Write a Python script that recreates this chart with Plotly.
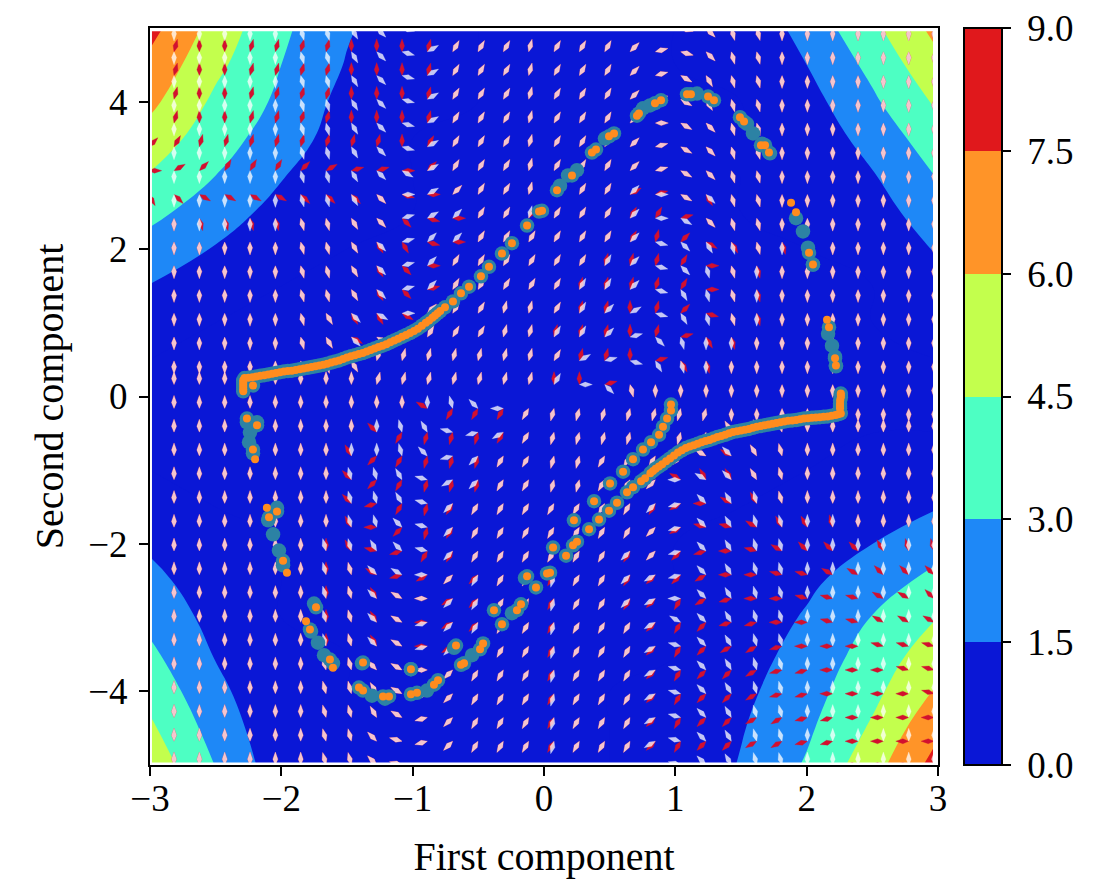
import math
import plotly.graph_objects as go

# ---- density field (rows top to bottom) ----
field_x = [-3, -2.5, -2, -1.5, -1, -0.5, 0, 0.5, 1, 1.5, 2, 2.5, 3]
field_y = [5, 4.5, 4, 3.5, 3, 2.5, 2, 1.5, 1, 0.5, 0, -0.5, -1, -1.5, -2, -2.5, -3, -3.5, -4, -4.5, -5]
field_z = [
    [8.0, 5.4, 3.3, 1.65, .5, 0, 0, 0, 0, .3, 2.05, 4.15, 6.5],
    [7.1, 4.85, 3.0, 1.4, .3, 0, 0, 0, 0, .1, 1.5, 3.4, 5.65],
    [6.35, 4.2, 2.7, 1.0, .1, 0, 0, 0, 0, 0, .95, 2.75, 4.75],
    [5.4, 3.6, 2.3, .7, 0, 0, 0, 0, 0, 0, .6, 2.0, 3.9],
    [4.4, 3.0, 1.6, .4, 0, 0, 0, 0, 0, 0, .35, 1.4, 3.1],
    [3.4, 2.2, 1.0, .1, 0, 0, 0, 0, 0, 0, .05, .85, 2.35],
    [2.4, 1.4, .4, 0, 0, 0, 0, 0, 0, 0, 0, .3, 1.65],
    [1.45, .5, 0, 0, 0, 0, 0, 0, 0, 0, 0, 0, 1.0],
    [.4, 0, 0, 0, 0, 0, 0, 0, 0, 0, 0, 0, .4],
    [0, 0, 0, 0, 0, 0, 0, 0, 0, 0, 0, 0, 0],
    [0, 0, 0, 0, 0, 0, 0, 0, 0, 0, 0, 0, 0],
    [0, 0, 0, 0, 0, 0, 0, 0, 0, 0, 0, 0, 0],
    [0, 0, 0, 0, 0, 0, 0, 0, 0, 0, 0, .2, .6],
    [.6, 0, 0, 0, 0, 0, 0, 0, 0, 0, .3, .8, 1.45],
    [1.25, .25, 0, 0, 0, 0, 0, 0, 0, .1, .75, 1.5, 2.45],
    [1.95, .6, 0, 0, 0, 0, 0, 0, 0, .3, 1.2, 2.3, 3.45],
    [2.6, 1.0, 0, 0, 0, 0, 0, 0, 0, .55, 1.65, 3.05, 4.5],
    [3.3, 1.4, .1, 0, 0, 0, 0, 0, 0, .85, 2.05, 3.6, 5.35],
    [4.0, 1.9, .2, 0, 0, 0, 0, 0, .1, 1.15, 2.4, 4.1, 6.2],
    [4.75, 2.4, .4, 0, 0, 0, 0, 0, .2, 1.4, 2.75, 4.7, 7.2],
    [5.5, 2.95, .6, 0, 0, 0, 0, 0, .3, 1.6, 3.15, 5.4, 8.1],
]
band_colors = ["#0a17d6", "#1e88f7", "#4dffc3", "#c3ff4d", "#ff9428", "#e0181c"]
cbar_ticks = [0, 1.5, 3, 4.5, 6, 7.5, 9]

# ---- arrow grid: one letter per arrow, a=east, then 15 degrees counter-clockwise each ----
arrow_x0, arrow_dx = -3.01, 0.1929
arrow_y0, arrow_dy = 5.0, -0.32258
white_dirs = [
    "ssssssttuvxceeefeeedbxvttsssssss",
    "ssssssttuvxceeefeeedbxvttsssssss",
    "ssssssttuvxceeefeeedbwuttsssssss",
    "ssssssttuvxceeefeeedbwuttsssssss",
    "ssssssttuvxceeefeeedawvttsssssss",
    "ssssssttuvxceeefeeedbwvttsssssss",
    "ssssssttuvwceeefeeedbwvttsssssss",
    "ssssssttuvacdeefeeedawvttsssssss",
    "ssssssttuvbcdeefeeedawvttsssssss",
    "ssssssttuvbddeeeeeedxvuttsssssss",
    "ssssssttuvbdeeeeeeedxvttssssssss",
    "ssssssttuvbdeeeeeeedxuttssssssss",
    "sssssstuvwadeeffeedcxuttssssssss",
    "sssssstuvwdeeeffeedbvtssssssssss",
    "ssssssttufffffffecbxutssssssssss",
    "gggggggggfffffffeavtssssssssssss",
    "gggggggggggghjmqrrrrrrrsssssssss",
    "gggggggggghilnoqrrrrrrrihhgggggg",
    "gggggggggghjnpqqrrqqqpkjihgggggg",
    "gggggggghhilopqqrrqqpmkjihgggggg",
    "gggggggghhilpqqqqqqqpnjihhgggggg",
    "gggggggghhjlpqqqqqqqpnjihhgggggg",
    "ggggggghhijlpqqqqqqppnjihhgggggg",
    "ggggggghhjkmpqqqrqqponjihhgggggg",
    "ggggggghhjkmpqqqrqqpomjihhgggggg",
    "ggggggghhjknpqqqrqqqokjihhgggggg",
    "ggggggghhjknpqqqrqqqoljihhgggggg",
    "ggggggghhjkmpqqqrqqqoljihhgggggg",
    "ggggggghhiknpqqqrqqqoljihhgggggg",
    "ggggggghhiknpqqqrqqqoljihhgggggg",
    "ggggggghhjlnpqqqrqqqoljihhgggggg",
    "ggggggghhjlnpqqqrqqqoljihhgggggg",
]
red_dirs = [
    "gfggffffgggfeeefeeedbxvttsssssss",
    "gfggffffgggfeeefeeedbxvttsssssss",
    "gfggffffgggfeeefeeedbwuttsssssss",
    "gfggffffgggfeeefeeedbwuttsssssss",
    "gfggffffgggfeeefeeedawvttsssssss",
    "deffffffffgeeeefeeedbwvttsssssss",
    "acdeeedcbbadeeefeeedbwvttsssssss",
    "uvwwwwvvvvxadeefeeecbwuttsssssss",
    "ssttttttuvvxaeeeeeeeebvttsssssss",
    "ssssssttuuuxaeeeeeeefdwuttssssss",
    "ssssssttuuvaeeeeeefffeattsssssss",
    "ssssssttuuvbeeeeeffffeattsssssss",
    "sssssstuuuwdeeffeffgfdxttsssssss",
    "sssssstuwwdeeefffffgfbutssssssss",
    "ssssssttufffffffeffgbutsssssssss",
    "gggggggggfffffffggbtssssssssssss",
    "gggggggggggkqqqqrrrrrrrsssssssss",
    "gggggggggjqrrrqqrrrrrrrihhgggggg",
    "ggggggggipqrrrqqrrqqqpkkihgggggg",
    "ggggggggjpqrrrqqrrqqpkiiihgggggg",
    "ggggggggjnqrqqqqqqqqqomkihgggggg",
    "ggggggggimprqqqqqqqqpollkiihgggg",
    "ggggggggilnqqqqqqqqqppnmlkjjjihh",
    "gggggggghknoppqqqqqqppommllkkjjj",
    "gggggggghikmopqqqqqqpqonmmlllkkj",
    "gggggggghikmopqqqqqqpqpnnmmllkkk",
    "gggggggghikmopqqqqqqpqpoonmmmlll",
    "ggggggghhjkmpqqqqqqqpqpponnmmmll",
    "ggggggghhiknpqqqqqqqpqpponnmmmml",
    "ggggggghhiknpqqqqqqqpqppoonnmmmm",
    "ggggggghhjlnpqqqqqqqpqppoonnmmmm",
    "ggggggghhjlnpqqqqqqqpqppoonnmmmm",
]
arrow_len_px = 13
arrow_width_px = 5

# ---- points ----
pair_x = [-2.29, -2.29, -2.29, -2.29, -2.29, -2.29, -2.216,
          -2.28, -2.25, -2.22, -2.19, -2.16, -2.13, -2.10, -2.07, -2.04, -2.01, -1.98, -1.95, -1.92, -1.89, -1.86, -1.83, -1.80, -1.77, -1.74, -1.71, -1.68, -1.65, -1.62, -1.59, -1.56, -1.53, -1.50, -1.47, -1.44, -1.41, -1.38, -1.35, -1.32, -1.29, -1.26, -1.23, -1.20, -1.17, -1.14, -1.11, -1.08, -1.05, -1.02, -.99, -.96, -.93, -.90, -.875, -.85, -.83, -.81, -.79,
          -.754, -.693, -.632, -.571, -.48, -.419, -.32, -.244, -.129, -.038, -.015, .099, .213, .365, .396, .495, .533, .708, .723, .845, .891, 1.089, 1.119, 1.249, 1.294, 1.492, 1.523, 1.652, 1.683, 1.713, 2.018, 2.048, 2.17, 2.216, 2.223,
          2.26, 2.26, 2.26, 2.255, 2.254, 2.254, 2.254,
          .77, .81, .83, .85, .875, .90, .93, .96, .99, 1.02, 1.05, 1.08, 1.11, 1.14, 1.17, 1.20, 1.23, 1.26, 1.29, 1.32, 1.35, 1.38, 1.41, 1.44, 1.47, 1.50, 1.53, 1.56, 1.59, 1.62, 1.65, 1.68, 1.71, 1.74, 1.77, 1.80, 1.83, 1.86, 1.89, 1.92, 1.95, 1.98, 2.01, 2.04, 2.07, 2.10, 2.13, 2.16, 2.19, 2.22, 2.24, 2.26,
          -2.262, -2.185, -2.216, -2.033, -2.094, -1.987, -1.736, -1.782, -1.63, -1.378, -1.409, -1.378, -1.226, -1.18, -1.013, -1.013, -.967, -.838, -.807, -.67, -.632, -.609, -.487, -.464, -.381, -.32, -.206, -.175, -.129, -.061, .023,
          .046, .069, .168, .221, .251, .228, .343, .419, .381, .495, .556, .503, .602, .678, .754, .815, .876, .906, .937, .967, .967, .632, .678, .739]
pair_y = [.07, .10, .13, .16, .19, .22, .15,
          .25, .255, .26, .27, .28, .29, .30, .31, .32, .33, .34, .345, .35, .36, .37, .38, .39, .40, .41, .42, .43, .445, .46, .475, .49, .51, .53, .545, .56, .575, .59, .61, .63, .65, .67, .69, .71, .735, .76, .785, .81, .835, .86, .89, .92, .96, 1.0, 1.03, 1.07, 1.10, 1.13, 1.16,
          1.21, 1.29, 1.40, 1.49, 1.63, 1.76, 1.94, 2.08, 2.32, 2.51, 2.52, 2.80, 3.0, 3.31, 3.35, 3.53, 3.57, 3.81, 3.84, 3.98, 4.02, 4.10, 4.10, 4.07, 4.02, 3.79, 3.73, 3.41, 3.41, 3.31, 1.95, 1.79, .94, .52, .42,
          .04, .02, -.01, -.05, -.10, -.13, -.16,
          -1.11, -1.04, -1.01, -.98, -.95, -.92, -.88, -.84, -.80, -.76, -.73, -.70, -.68, -.66, -.64, -.62, -.605, -.59, -.57, -.55, -.535, -.52, -.50, -.48, -.47, -.46, -.45, -.44, -.425, -.41, -.40, -.39, -.38, -.37, -.36, -.35, -.34, -.33, -.325, -.32, -.31, -.30, -.295, -.29, -.285, -.28, -.275, -.27, -.26, -.25, -.24, -.23,
          -.30, -.39, -.72, -1.56, -1.64, -2.23, -2.86, -3.16, -3.57, -3.61, -3.95, -3.99, -4.07, -4.07, -3.70, -4.04, -4.02, -3.91, -3.85, -3.38, -3.64, -3.62, -3.43, -3.35, -2.90, -3.09, -2.90, -2.82, -2.44, -2.59, -2.40,
          -2.39, -2.05, -2.16, -2.02, -1.97, -1.68, -1.80, -1.67, -1.42, -1.55, -1.44, -1.18, -1.02, -.85, -.72, -.62, -.52, -.41, -.30, -.19, -.11, -1.30, -1.23, -1.15]
orange_only_x = [-1.812, -2.11, 1.881, 2.155, -2.20, -1.957, -1.607, 1.919]
orange_only_y = [-3.05, -1.51, 2.63, 1.04, -.85, -2.39, -3.68, 2.50]
teal_only_x = [1.919, 1.972, 2.01, 2.048, 2.163, 2.193, 2.216, 2.223, 1.546, 1.591, 1.66, 1.721, 1.165, .754, .807, .464, .183, .251, .122,
               -2.239, -2.246, -2.262, -2.185, -2.216, -2.033, -2.10, -2.063, -2.018, -1.987, -1.751, -1.774, -1.721, -1.675, -1.607, -1.386, -1.31, -1.211, -1.013, -.891, -.685, -.548, -.244, -.145]
teal_only_y = [2.42, 2.24, 2.02, 1.79, .85, .69, .54, .41, 3.70, 3.57, 3.43, 3.30, 4.11, 3.91, 3.95, 3.50, 3.0, 3.07, 2.86,
               -.49, -.62, -.35, -.35, -.77, -1.51, -1.68, -1.87, -2.09, -2.29, -2.81, -3.19, -3.34, -3.51, -3.62, -3.62, -4.06, -4.10, -3.70, -3.99, -3.41, -3.51, -2.94, -2.46]

x_ticks = [-3, -2, -1, 0, 1, 2, 3]
y_ticks = [-4, -2, 0, 2, 4]
x_title = "First component"
y_title = "Second component"

# ---- plot area in page pixels ----
PLOT_L, PLOT_R, PLOT_T, PLOT_B = 150, 938, 28, 765
FIG_W, FIG_H = 1102, 884
PX_X = (PLOT_R - PLOT_L) / 6
PX_Y = (PLOT_B - PLOT_T) / 10
FONT = "Liberation Serif"


def arrows(rows):
    """Lens-shaped arrow outlines, built in pixel space and scaled to data units."""
    xs, ys = [], []
    L, W = arrow_len_px, arrow_width_px / 2
    for k, row in enumerate(rows):
        y0 = arrow_y0 + k * arrow_dy
        for i, code in enumerate(row):
            x0 = arrow_x0 + i * arrow_dx
            a = math.radians((ord(code) - ord("a")) * 15)
            c, s = math.cos(a), math.sin(a)
            outline = [(0, 0), (0.45 * L, W), (L, 0), (0.45 * L, -W), (0, 0)]
            for u, v in outline:
                xs.append(x0 + (u * c - v * s) / PX_X)
                ys.append(y0 + (u * s + v * c) / PX_Y)
            xs.append(None)
            ys.append(None)
    return xs, ys


n = len(band_colors)
colorscale = []
for b, c in enumerate(band_colors):
    colorscale += [[b / n, c], [(b + 1) / n, c]]

fig = go.Figure()
fig.add_trace(go.Contour(
    x=field_x, y=field_y, z=field_z,
    zmin=0, zmax=9, autocontour=False,
    contours=dict(start=0, end=9, size=1.5, coloring="fill", showlines=False),
    line=dict(width=0, smoothing=1.3),
    colorscale=colorscale, hoverinfo="skip",
    colorbar=dict(
        x=(964 - PLOT_L) / (PLOT_R - PLOT_L), xanchor="left", xpad=0,
        y=0.5, yanchor="middle", ypad=0, len=1, lenmode="fraction",
        thickness=38, thicknessmode="pixels",
        tickmode="array", tickvals=cbar_ticks, ticktext=[f"\u00a0{v:.1f}" for v in cbar_ticks],
        ticks="outside", ticklen=8, tickwidth=2, tickcolor="black",
        tickfont=dict(family=FONT, size=37, color="black"),
        outlinecolor="black", outlinewidth=2,
    ),
))
rx, ry = arrows(red_dirs)
fig.add_trace(go.Scatter(x=rx, y=ry, mode="lines", fill="toself", fillcolor="#d2102f",
                         line=dict(color="rgba(210,16,47,0.5)", width=0.6), hoverinfo="skip", showlegend=False))
wx, wy = arrows(white_dirs)
fig.add_trace(go.Scatter(x=wx, y=wy, mode="lines", fill="toself", fillcolor="rgba(255,255,255,0.76)",
                         line=dict(color="rgba(255,255,255,0.35)", width=0.6), hoverinfo="skip", showlegend=False))
fig.add_trace(go.Scatter(x=pair_x + teal_only_x, y=pair_y + teal_only_y, mode="markers",
                         marker=dict(color="#2c82a4", size=14.5, line=dict(width=0)), showlegend=False))
fig.add_trace(go.Scatter(x=pair_x + orange_only_x, y=pair_y + orange_only_y, mode="markers",
                         marker=dict(color="#ff8c1e", size=8, line=dict(width=0)), showlegend=False))

axis_common = dict(
    showgrid=False, zeroline=False, showline=True, linecolor="black", linewidth=2, mirror=True,
    ticks="outside", ticklen=9, tickwidth=2, tickcolor="black",
    tickfont=dict(family=FONT, size=37, color="black"),
)
fig.update_xaxes(range=[-3, 3], tickmode="array", tickvals=x_ticks,
                 ticktext=[str(v).replace("-", "\u2212") for v in x_ticks],
                 ticklabelstandoff=-9,
                 title=dict(text=x_title, font=dict(family=FONT, size=40, color="black"), standoff=24),
                 **axis_common)
fig.update_yaxes(range=[-5, 5], tickmode="array", tickvals=y_ticks,
                 ticktext=[str(v).replace("-", "\u2212") for v in y_ticks],
                 ticklabelstandoff=4,
                 title=dict(text=y_title, font=dict(family=FONT, size=40, color="black"), standoff=12),
                 **axis_common)

# white strips between the raster and the axes frame
margins = [(-3, -2.985, -5, 5), (2.962, 3, -5, 5), (-3, 3, 4.955, 5), (-3, 3, -5, -4.965)]
fig.update_layout(
    width=FIG_W, height=FIG_H, autosize=False,
    margin=dict(l=PLOT_L, r=FIG_W - PLOT_R, t=PLOT_T, b=FIG_H - PLOT_B, pad=0),
    plot_bgcolor="white", paper_bgcolor="white",
    showlegend=False,
    shapes=[dict(type="rect", xref="x", yref="y", x0=a, x1=b, y0=c, y1=d,
                 fillcolor="white", line=dict(width=0), layer="above") for a, b, c, d in margins],
)
fig.write_html("out.html", config=dict(displayModeBar=False),
               post_script="document.body.style.margin='0';document.body.style.overflow='hidden';")
